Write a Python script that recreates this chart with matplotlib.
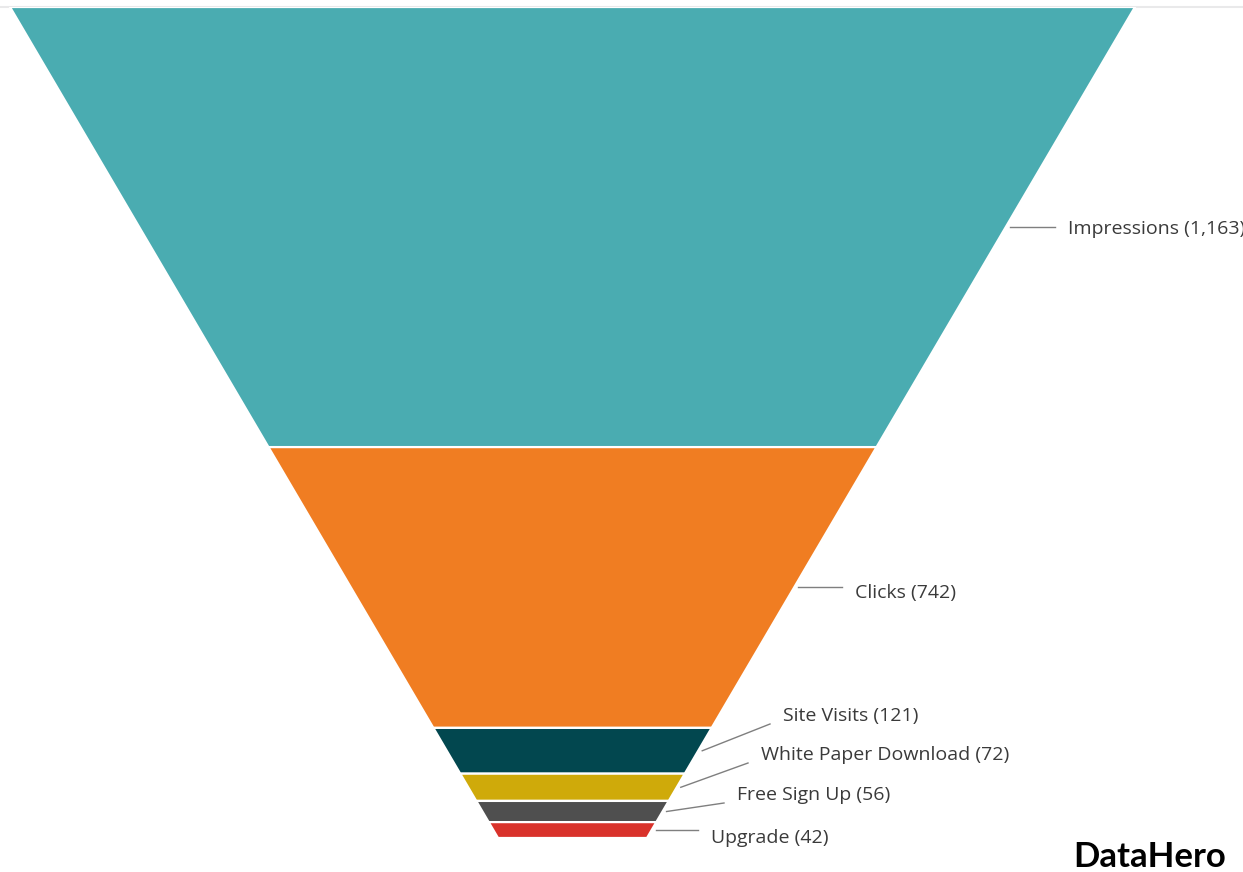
import matplotlib
matplotlib.use("Agg")
import matplotlib.pyplot as plt
from matplotlib.patches import Polygon
import numpy as np

stages = ["Impressions", "Clicks", "Site Visits", "White Paper Download", "Free Sign Up", "Upgrade"]
values = [1163, 742, 121, 72, 56, 42]
colors = ["#4AACB1", "#F07D22", "#02474F", "#CFAA0A", "#4F4F4F", "#D9322B"]

W, H = 1243, 872
fig = plt.figure(figsize=(W / 100, H / 100), dpi=100)
fig.patch.set_facecolor("white")

# funnel geometry (pixels)
top_px, bot_px = 7, 838
cx = 572.5
half_top, half_bot = 562.5, 74.5

total = sum(values)
ax = fig.add_axes([0, 1 - bot_px / H, 1, (bot_px - top_px) / H])
ax.set_xlim(0, W)
ax.set_ylim(total, 0)
ax.axis("off")

def half(v):
    return half_top + (half_bot - half_top) * v / total

# faint top rule
fig.add_artist(plt.Line2D([0, 1], [1 - 7.5 / H, 1 - 7.5 / H], color="#e9e9ea", lw=1.5, zorder=0))

cum = np.concatenate([[0], np.cumsum(values)])
for i, (v, c) in enumerate(zip(values, colors)):
    y0, y1 = cum[i], cum[i + 1]
    poly = Polygon([(cx - half(y0), y0), (cx + half(y0), y0),
                    (cx + half(y1), y1), (cx - half(y1), y1)],
                   closed=True, facecolor=c, edgecolor="white", lw=1.6, zorder=2)
    ax.add_patch(poly)

# label layout: (line end x, label y) in pixels
label_layout = [(1055, 229), (842, 593), (770, 716), (748, 755), (724, 795), (698, 838)]
inv = ax.transData.inverted()
for i, (name, v) in enumerate(zip(stages, values)):
    ym = (cum[i] + cum[i + 1]) / 2
    xs = cx + half(ym) + 4
    ex_px, ly_px = label_layout[i]
    ex, ly = inv.transform((ex_px, H - ly_px))
    line_end_y = ly - (inv.transform((0, H - ly_px + 8))[1] - ly) if i in (2, 3, 4) else ym
    ax.plot([xs, ex], [ym, line_end_y], color="#7f7f7f", lw=1.0, zorder=3, clip_on=False)
    ax.text(ex + 13, ly, f"{name} ({v:,})", fontsize=14, family="Open Sans",
            color="#3a3a3a", va="center", ha="left", clip_on=False)

fig.text(1226 / W, 1 - 857 / H, "DataHero", fontsize=25, family="Lato", fontweight="bold",
         color="black", ha="right", va="center")

fig.savefig("out.png", dpi=100, facecolor="white")
